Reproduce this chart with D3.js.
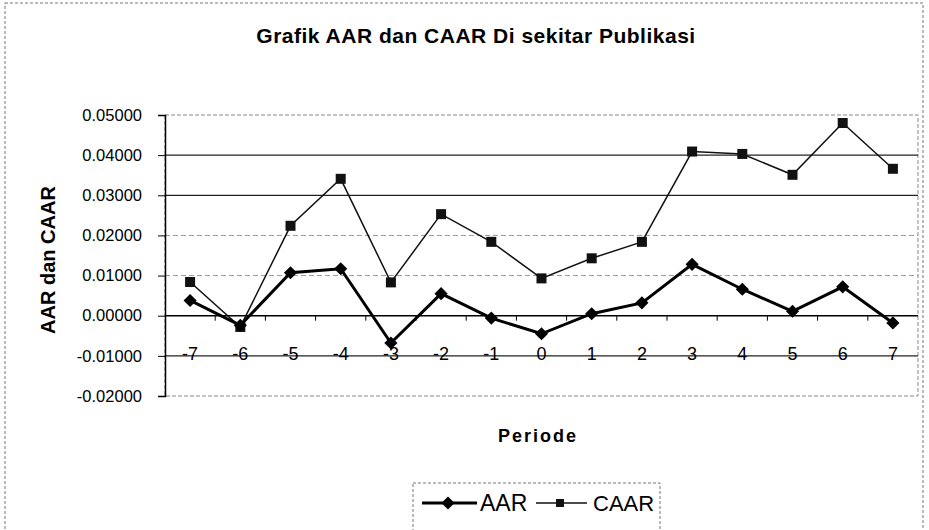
<!DOCTYPE html>
<html lang="en">
<head>
  <meta charset="UTF-8">
  <title>Grafik AAR dan CAAR</title>
  <script src="https://d3js.org/d3.v7.min.js"></script>
  <style>
    body { margin: 0; background: #fff; }
    text { font-family: "Liberation Sans", Arial, sans-serif; fill: #000; }
  </style>
</head>
<body>
  <svg width="929" height="530"></svg>
  <script>
    const periods = [-7, -6, -5, -4, -3, -2, -1, 0, 1, 2, 3, 4, 5, 6, 7];
    const aar  = [0.0038, -0.0024, 0.0107, 0.0117, -0.0068, 0.0055, -0.0006, -0.0045, 0.0005, 0.0032, 0.0128, 0.0066, 0.0011, 0.0072, -0.0018];
    const caar = [0.0084, -0.0028, 0.0224, 0.0341, 0.0083, 0.0253, 0.0184, 0.0093, 0.0143, 0.0184, 0.0409, 0.0403, 0.0351, 0.0480, 0.0366];
    const yTicks = [-0.02, -0.01, 0, 0.01, 0.02, 0.03, 0.04, 0.05];

    const svg = d3.select("svg");
    const plotLeft = 165, plotRight = 918, plotTop = 115, plotBottom = 396;

    const x = d3.scaleBand().domain(periods).range([plotLeft, plotRight]);
    const y = d3.scaleLinear().domain([-0.02, 0.05]).range([plotBottom, plotTop]);
    const cx = d => x(d) + x.bandwidth() / 2;

    // outer frame
    svg.append("rect")
        .attr("x", 5).attr("y", 3).attr("width", 918).attr("height", 540)
        .attr("fill", "none").attr("stroke", "#777").attr("stroke-dasharray", "3,2");

    // plot area border
    svg.append("rect")
        .attr("x", plotLeft).attr("y", plotTop).attr("width", plotRight - plotLeft).attr("height", plotBottom - plotTop)
        .attr("fill", "none").attr("stroke", "#888").attr("stroke-dasharray", "4,2");

    // gridlines
    const strong = [0.04, 0.03, -0.01];
    svg.append("g").selectAll("line")
        .data(yTicks.filter(t => t !== 0 && t !== 0.05 && t !== -0.02))
        .enter().append("line")
        .attr("x1", plotLeft).attr("x2", plotRight)
        .attr("y1", d => y(d)).attr("y2", d => y(d))
        .attr("stroke", d => strong.includes(d) ? "#222" : "#999")
        .attr("stroke-width", d => strong.includes(d) ? 1.3 : 1)
        .attr("stroke-dasharray", d => strong.includes(d) ? null : "5,3");

    // y axis
    const yAxis = svg.append("g")
        .attr("transform", `translate(${plotLeft},0)`)
        .call(d3.axisLeft(y).tickValues(yTicks).tickSize(7).tickPadding(16)
            .tickFormat(d => d3.format(".5f")(d).replace("−", "-")));
    yAxis.select(".domain").attr("stroke", "#000").attr("stroke-width", 1.5);
    yAxis.selectAll("text").style("font-size", "16.5px").style("font-family", "'Liberation Sans', Arial, sans-serif");

    // x axis at zero
    svg.append("line")
        .attr("x1", plotLeft).attr("x2", plotRight).attr("y1", y(0)).attr("y2", y(0))
        .attr("stroke", "#000").attr("stroke-width", 1.5);
    svg.append("g").selectAll("line")
        .data(periods.slice(1))
        .enter().append("line")
        .attr("x1", d => x(d)).attr("x2", d => x(d))
        .attr("y1", y(0)).attr("y2", y(0) + 5)
        .attr("stroke", "#000");
    svg.append("g").selectAll("text")
        .data(periods)
        .enter().append("text")
        .attr("x", cx).attr("y", y(-0.01) + 4)
        .attr("text-anchor", "middle")
        .style("font-size", "18px")
        .text(d => d);

    // lines
    const line = d3.line().x((d, i) => cx(periods[i])).y(d => y(d));
    svg.append("path").datum(caar).attr("d", line)
        .attr("fill", "none").attr("stroke", "#111").attr("stroke-width", 1.5);
    svg.append("path").datum(aar).attr("d", line)
        .attr("fill", "none").attr("stroke", "#000").attr("stroke-width", 3);

    // markers
    svg.append("g").selectAll("rect")
        .data(caar).enter().append("rect")
        .attr("x", (d, i) => cx(periods[i]) - 5).attr("y", d => y(d) - 5)
        .attr("width", 10).attr("height", 10)
        .attr("fill", "#111");
    svg.append("g").selectAll("path")
        .data(aar).enter().append("path")
        .attr("d", d3.symbol().type(d3.symbolDiamond2).size(110))
        .attr("transform", (d, i) => `translate(${cx(periods[i])},${y(d)})`)
        .attr("fill", "#000");

    // titles
    svg.append("text")
        .attr("x", 476).attr("y", 43).attr("text-anchor", "middle")
        .style("font-size", "21px").style("font-weight", "bold").style("letter-spacing", "0.5px")
        .text("Grafik AAR dan CAAR Di sekitar Publikasi");
    svg.append("text")
        .attr("transform", "translate(55,260) rotate(-90)")
        .attr("text-anchor", "middle")
        .style("font-size", "20px").style("font-weight", "bold")
        .text("AAR dan CAAR");
    svg.append("text")
        .attr("x", 538).attr("y", 442).attr("text-anchor", "middle")
        .style("font-size", "18px").style("font-weight", "bold").style("letter-spacing", "2px")
        .text("Periode");

    // legend
    const lg = svg.append("g");
    lg.append("rect").attr("x", 413).attr("y", 483).attr("width", 247).attr("height", 60)
        .attr("fill", "none").attr("stroke", "#777").attr("stroke-dasharray", "3,2");
    lg.append("line").attr("x1", 422).attr("x2", 477).attr("y1", 503).attr("y2", 503)
        .attr("stroke", "#000").attr("stroke-width", 3);
    lg.append("path").attr("d", d3.symbol().type(d3.symbolDiamond2).size(110))
        .attr("transform", "translate(448,503)");
    lg.append("text").attr("x", 480).attr("y", 511).style("font-size", "23px").text("AAR");
    lg.append("line").attr("x1", 536).attr("x2", 587).attr("y1", 503).attr("y2", 503)
        .attr("stroke", "#111").attr("stroke-width", 1.5);
    lg.append("rect").attr("x", 556).attr("y", 499).attr("width", 8).attr("height", 8).attr("fill", "#111");
    lg.append("text").attr("x", 593).attr("y", 511).style("font-size", "22px").text("CAAR");
  </script>
</body>
</html>
